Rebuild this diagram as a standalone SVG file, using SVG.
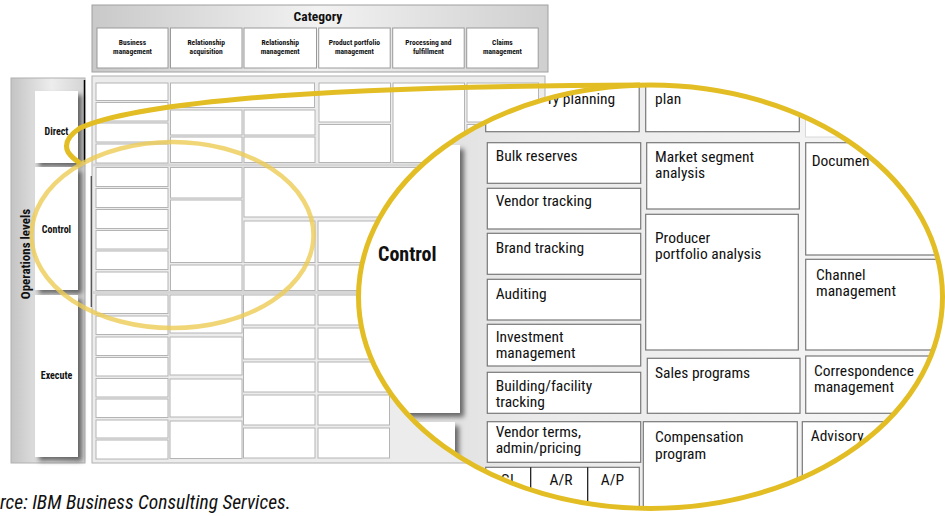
<svg xmlns="http://www.w3.org/2000/svg" width="945" height="516" viewBox="0 0 945 516">
<defs>
<linearGradient id="hdr" x1="0" y1="0" x2="1" y2="0"><stop offset="0" stop-color="#c9c9c9"/><stop offset="0.5" stop-color="#f2f2f2"/><stop offset="1" stop-color="#cfcfcf"/></linearGradient>
<linearGradient id="lvl" x1="0" y1="0" x2="1" y2="0"><stop offset="0" stop-color="#c4c4c4"/><stop offset="0.55" stop-color="#ededed"/><stop offset="1" stop-color="#d4d4d4"/></linearGradient>
<linearGradient id="mag" x1="0" y1="0" x2="1" y2="0"><stop offset="0" stop-color="#d9d9d9"/><stop offset="0.3" stop-color="#e9e9e9"/><stop offset="1" stop-color="#f8f8f8"/></linearGradient>
<clipPath id="ell"><ellipse cx="650.5" cy="296.8" rx="292" ry="211.7"/></clipPath>
<filter id="sh" x="-20%" y="-20%" width="150%" height="150%"><feDropShadow dx="4" dy="4" stdDeviation="2.5" flood-color="#000" flood-opacity="0.55"/></filter>
<style>
.t{font-family:"Liberation Sans Narrow","Roboto Condensed","DejaVu Sans Condensed","Liberation Sans",sans-serif;font-stretch:condensed;fill:#111}
.b{font-weight:bold}
.hb{fill:#fff;stroke:#9a9a9a;stroke-width:1}
.sc{fill:#fff;stroke:#b4b4b4;stroke-width:1}
.mc{fill:#fff;stroke:#787878;stroke-width:1.2}
.ht{font-size:7.5px;text-anchor:middle}
.lt{font-size:10px;text-anchor:middle}
.mt{font-size:15.5px}
</style>
</defs>
<rect width="945" height="516" fill="#fff"/>

<g id="category">
<rect x="92" y="5" width="456" height="67" fill="url(#hdr)" stroke="#a0a0a0"/>
<text class="t b" x="318" y="21" font-size="13.5" text-anchor="middle">Category</text>
<g id="cat-business"><rect class="hb" x="97" y="28" width="71" height="40"/><text class="t b ht" x="132.5" y="44.5">Business</text><text class="t b ht" x="132.5" y="53.5">management</text></g>
<g id="cat-acq"><rect class="hb" x="170.5" y="28" width="71.5" height="40"/><text class="t b ht" x="206.2" y="44.5">Relationship</text><text class="t b ht" x="206.2" y="53.5">acquisition</text></g>
<g id="cat-rel"><rect class="hb" x="244" y="28" width="72.5" height="40"/><text class="t b ht" x="280.2" y="44.5">Relationship</text><text class="t b ht" x="280.2" y="53.5">management</text></g>
<g id="cat-prod"><rect class="hb" x="318.7" y="28" width="71.5" height="40"/><text class="t b ht" x="354.4" y="44.5">Product portfolio</text><text class="t b ht" x="354.4" y="53.5">management</text></g>
<g id="cat-proc"><rect class="hb" x="392.7" y="28" width="71.5" height="40"/><text class="t b ht" x="428.4" y="44.5">Processing and</text><text class="t b ht" x="428.4" y="53.5">fulfillment</text></g>
<g id="cat-claims"><rect class="hb" x="466.7" y="28" width="71.5" height="40"/><text class="t b ht" x="502.4" y="44.5">Claims</text><text class="t b ht" x="502.4" y="53.5">management</text></g>
</g>

<g id="levels">
<rect x="11" y="78" width="74" height="385" fill="url(#lvl)" stroke="#b0b0b0"/>
<text class="t b" font-size="13" text-anchor="middle" transform="translate(30,254) rotate(-90)">Operations levels</text>
<g id="lvl-direct"><rect x="35" y="91" width="43" height="72" fill="#fff" filter="url(#sh)"/><text class="t b lt" x="56.5" y="135">Direct</text></g>
<g id="lvl-control"><rect x="35" y="167" width="43" height="123" fill="#fff" filter="url(#sh)"/><text class="t b lt" x="56.5" y="233">Control</text></g>
<g id="lvl-execute"><rect x="35" y="295" width="43" height="162" fill="#fff" filter="url(#sh)"/><text class="t b lt" x="56.5" y="379">Execute</text></g>
<line x1="84.5" y1="80" x2="84.5" y2="162" stroke="#000" stroke-width="1.5"/>
<line x1="91.5" y1="176" x2="91.5" y2="307" stroke="#000" stroke-width="1.5"/>
</g>

<g id="grid">
<rect x="92" y="76" width="453" height="387" fill="#ececec" stroke="#b0b0b0"/>
<line x1="93" y1="165" x2="545" y2="165" stroke="#d6d6d6" stroke-width="3"/>
<line x1="93" y1="292.5" x2="545" y2="292.5" stroke="#d6d6d6" stroke-width="3"/>
<rect class="sc" x="96" y="83" width="72" height="17.5"/>
<rect class="sc" x="96" y="102.5" width="72" height="18.5"/>
<rect class="sc" x="96" y="123" width="72" height="19"/>
<rect class="sc" x="96" y="144" width="72" height="19"/>
<rect class="sc" x="170.5" y="83" width="144" height="24.5"/>
<rect class="sc" x="170.5" y="110" width="71.5" height="25"/>
<rect class="sc" x="170.5" y="137" width="71.5" height="25.5"/>
<rect class="sc" x="244" y="110" width="71" height="25"/>
<rect class="sc" x="244" y="137" width="71" height="25.5"/>
<rect class="sc" x="319" y="83" width="71.5" height="39"/>
<rect class="sc" x="319" y="124.5" width="71.5" height="38"/>
<rect class="sc" x="393" y="83" width="71.5" height="79.5"/>
<rect class="sc" x="467" y="83" width="71.5" height="39"/>
<rect class="sc" x="467" y="124.5" width="71.5" height="38"/>
<rect class="sc" x="96" y="167.5" width="72" height="19"/>
<rect class="sc" x="96" y="188.5" width="72" height="19"/>
<rect class="sc" x="96" y="209.5" width="72" height="19"/>
<rect class="sc" x="96" y="230.5" width="72" height="18.5"/>
<rect class="sc" x="96" y="251" width="72" height="18.5"/>
<rect class="sc" x="96" y="272" width="72" height="18.5"/>
<rect class="sc" x="170.5" y="167.5" width="71.5" height="30.5"/>
<rect class="sc" x="170.5" y="200" width="71.5" height="62.5"/>
<rect class="sc" x="170.5" y="265" width="71.5" height="25.5"/>
<rect class="sc" x="244" y="167.5" width="220" height="49.5"/>
<rect class="sc" x="244" y="221" width="71" height="41.5"/>
<rect class="sc" x="244" y="265" width="71" height="25.5"/>
<rect class="sc" x="318" y="221" width="71.5" height="41.5"/>
<rect class="sc" x="318" y="265" width="71.5" height="25.5"/>
<rect class="sc" x="393" y="221" width="71.5" height="41.5"/>
<rect class="sc" x="393" y="265" width="71.5" height="25.5"/>
<rect class="sc" x="96" y="295" width="72" height="18.5"/>
<rect class="sc" x="96" y="316" width="72" height="18.5"/>
<rect class="sc" x="96" y="337" width="72" height="18.5"/>
<rect class="sc" x="96" y="357.5" width="72" height="18.5"/>
<rect class="sc" x="96" y="378.5" width="72" height="18.5"/>
<rect class="sc" x="96" y="399" width="72" height="18.5"/>
<rect class="sc" x="96" y="420" width="72" height="18"/>
<rect class="sc" x="96" y="440" width="72" height="19"/>
<rect class="sc" x="170" y="295" width="72" height="38"/>
<rect class="sc" x="170" y="337" width="72" height="38"/>
<rect class="sc" x="170" y="379" width="72" height="38"/>
<rect class="sc" x="170" y="421" width="72" height="37.5"/>
<rect class="sc" x="243.5" y="295" width="71.5" height="30"/>
<rect class="sc" x="243.5" y="328" width="71.5" height="31"/>
<rect class="sc" x="243.5" y="362" width="71.5" height="30"/>
<rect class="sc" x="243.5" y="395" width="71.5" height="30"/>
<rect class="sc" x="243.5" y="428" width="71.5" height="30"/>
<rect class="sc" x="318" y="295" width="71.5" height="30"/>
<rect class="sc" x="318" y="328" width="71.5" height="31"/>
<rect class="sc" x="318" y="362" width="71.5" height="30"/>
<rect class="sc" x="318" y="395" width="71.5" height="30"/>
<rect class="sc" x="318" y="428" width="71.5" height="30"/>
</g>

<g id="magnified" clip-path="url(#ell)">
<rect x="350" y="80" width="600" height="440" fill="url(#mag)"/>
<rect x="805.5" y="40" width="150" height="97" fill="#fff" stroke="#d8d8d8"/>
<g id="m-control"><rect x="300" y="145" width="160" height="268" fill="#fff" filter="url(#sh)"/><text class="t b" x="378" y="261" font-size="20">Control</text></g>
<g id="m-execute"><rect x="300" y="422" width="155" height="120" fill="#fff" filter="url(#sh)"/></g>
<g id="m-planning"><rect class="mc" x="485.7" y="40" width="153.5" height="91.7"/><text class="t mt" x="548" y="104">ry planning</text></g>
<g id="m-bulk"><rect class="mc" x="487.3" y="142.7" width="153.4" height="40.6"/><text class="t mt" x="495.7" y="160.7">Bulk reserves</text></g>
<g id="m-vendor"><rect class="mc" x="487.3" y="188.3" width="153.4" height="40.7"/><text class="t mt" x="495.7" y="206">Vendor tracking</text></g>
<g id="m-brand"><rect class="mc" x="487.3" y="233.3" width="153.4" height="41"/><text class="t mt" x="495.7" y="252.7">Brand tracking</text></g>
<g id="m-auditing"><rect class="mc" x="487.3" y="279.3" width="153.4" height="40.7"/><text class="t mt" x="495.7" y="299.3">Auditing</text></g>
<g id="m-invest"><rect class="mc" x="487.3" y="324.3" width="153.4" height="41.7"/><text class="t mt" x="495.7" y="342.2">Investment</text><text class="t mt" x="495.7" y="358.2">management</text></g>
<g id="m-building"><rect class="mc" x="487.3" y="372.3" width="153.4" height="41"/><text class="t mt" x="495.7" y="391.2">Building/facility</text><text class="t mt" x="495.7" y="407.2">tracking</text></g>
<g id="m-vterms"><rect class="mc" x="487.3" y="421.7" width="153.4" height="40.6"/><text class="t mt" x="495.7" y="437.4">Vendor terms,</text><text class="t mt" x="495.7" y="453.4">admin/pricing</text></g>
<g id="m-gl"><rect class="mc" x="485.7" y="467.3" width="153.6" height="60"/><line x1="530.7" y1="467.3" x2="530.7" y2="530" stroke="#111" stroke-width="1.2"/><line x1="587.7" y1="467.3" x2="587.7" y2="530" stroke="#111" stroke-width="1.2"/><text class="t mt" x="509" y="484.5" text-anchor="middle">GL</text><text class="t mt" x="561" y="484.5" text-anchor="middle">A/R</text><text class="t mt" x="612.5" y="484.5" text-anchor="middle">A/P</text></g>
<g id="m-plan"><rect class="mc" x="645.7" y="40" width="153.6" height="91.7"/><text class="t mt" x="655" y="104">plan</text></g>
<g id="m-market"><rect class="mc" x="646.7" y="142.7" width="152.6" height="66.3"/><text class="t mt" x="655" y="161.5">Market segment</text><text class="t mt" x="655" y="177.8">analysis</text></g>
<g id="m-producer"><rect class="mc" x="645.7" y="214.3" width="152.6" height="135.7"/><text class="t mt" x="655" y="243">Producer</text><text class="t mt" x="655" y="259.2">portfolio analysis</text></g>
<g id="m-sales"><rect class="mc" x="647.3" y="358.3" width="152.7" height="55"/><text class="t mt" x="655" y="378.3">Sales programs</text></g>
<g id="m-comp"><rect class="mc" x="643.3" y="421.7" width="154" height="110"/><text class="t mt" x="655" y="442.3">Compensation</text><text class="t mt" x="655" y="458.5">program</text></g>
<g id="m-document"><rect class="mc" x="805.7" y="142.7" width="150" height="112.3"/><text class="t mt" x="811.7" y="166">Documen</text></g>
<g id="m-channel"><rect class="mc" x="805.7" y="259.3" width="150" height="90.7"/><text class="t mt" x="816" y="280">Channel</text><text class="t mt" x="816" y="296.4">management</text></g>
<g id="m-corresp"><rect class="mc" x="805.7" y="356" width="150" height="57.3"/><text class="t mt" x="814" y="375.8">Correspondence</text><text class="t mt" x="814" y="392">management</text></g>
<g id="m-advisory"><rect class="mc" x="802.3" y="421.7" width="150" height="110"/><text class="t mt" x="810.7" y="440.7">Advisory</text></g>
</g>

<g id="connectors">
<ellipse cx="172.5" cy="235" rx="141" ry="93" fill="none" stroke="#edcc55" stroke-opacity="0.8" stroke-width="4.5"/>
<path d="M640,85 Q380,86 240,99 Q120,110 80,128 Q62,140 68,152 Q72,158 80,163" fill="none" stroke="#e3bd24" stroke-width="5"/>
<ellipse cx="650.5" cy="296.8" rx="292" ry="211.7" fill="none" stroke="#e3bd24" stroke-width="5"/>
</g>

<text id="caption" class="t" x="0" y="509" font-size="19.5" font-style="italic" fill="#333">rce: IBM Business Consulting Services.</text>
</svg>
